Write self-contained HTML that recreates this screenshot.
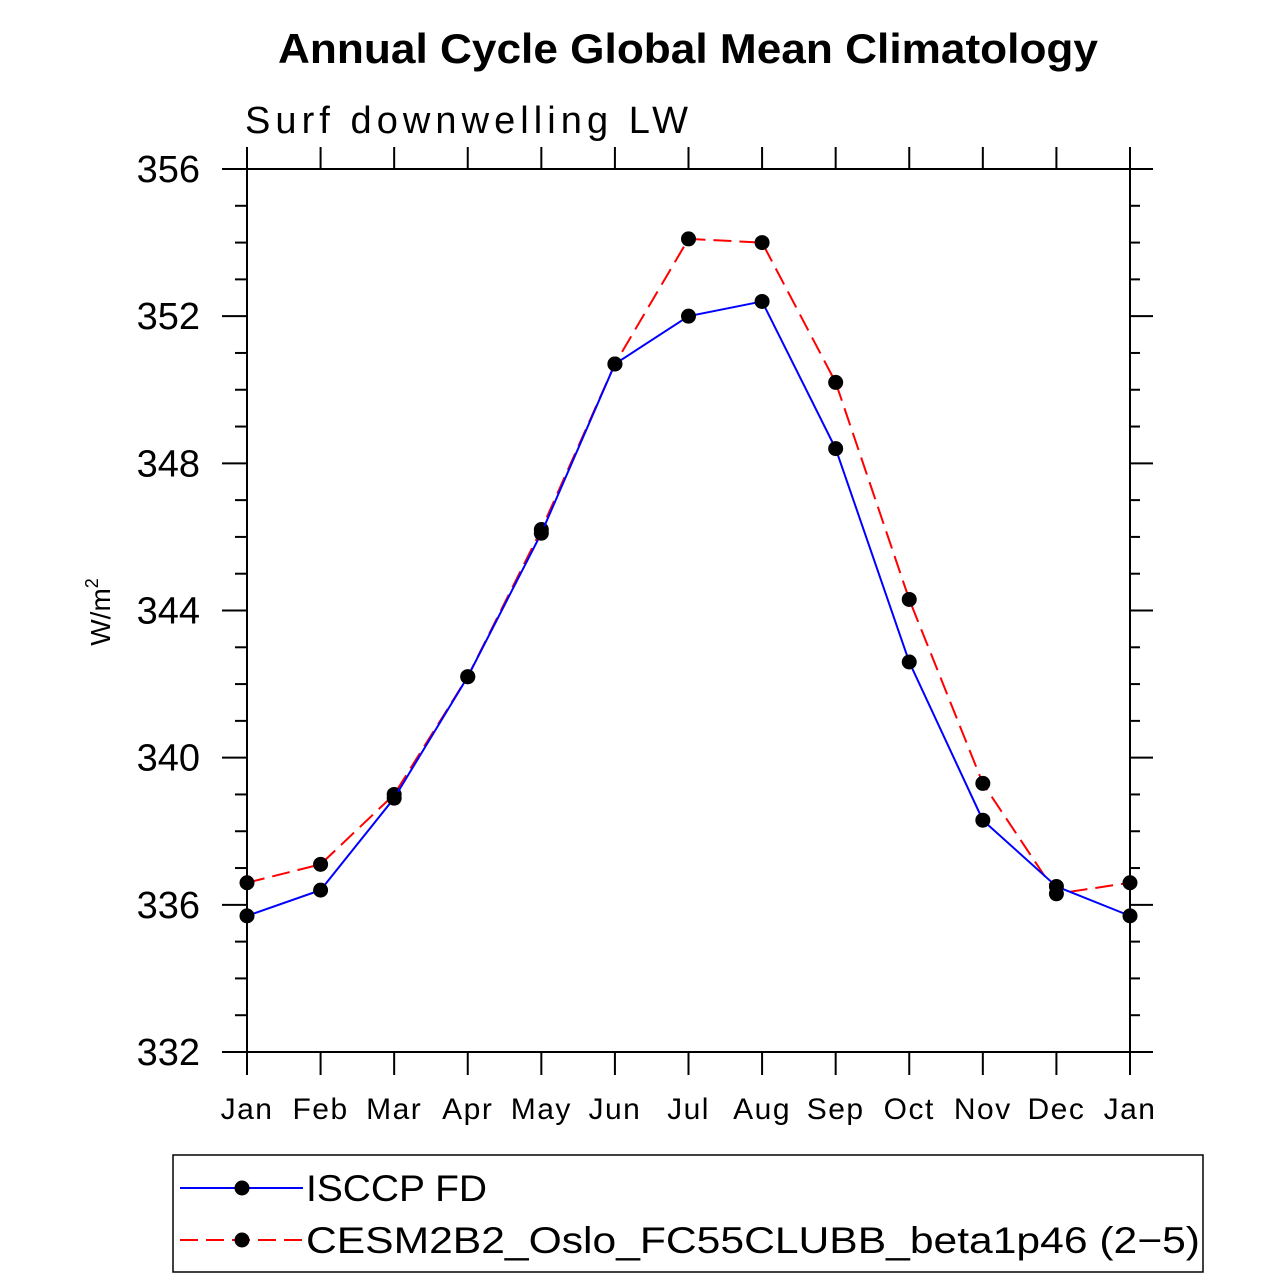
<!DOCTYPE html>
<html><head><meta charset="utf-8"><style>body{margin:0;background:#fff}svg{display:block}text{font-family:"Liberation Sans",sans-serif}</style></head>
<body>
<svg id="c" width="1285" height="1279" xmlns="http://www.w3.org/2000/svg">
<text x="278" y="63" font-size="42" font-weight="bold" textLength="820" lengthAdjust="spacingAndGlyphs">Annual Cycle Global Mean Climatology</text>
<text x="245" y="133" font-size="38" font-weight="300" textLength="443" lengthAdjust="spacing">Surf downwelling LW</text>
<text transform="translate(110,612) rotate(-90)" font-size="28" text-anchor="middle">W/m<tspan dy="-12" font-size="18">2</tspan></text>
<g id="axes"></g><g id="series"></g>
<rect x="173" y="1155" width="1030" height="117" fill="none" stroke="#000" stroke-width="1.5"/>
<g>
<line x1="180" y1="1188" x2="303" y2="1188" stroke="#0000ff" stroke-width="2"/><circle cx="242" cy="1188" r="7.5"/>
<text x="306" y="1201" font-size="37" textLength="181" lengthAdjust="spacingAndGlyphs">ISCCP FD</text></g>
<g>
<line x1="180" y1="1240" x2="303" y2="1240" stroke="#ff0000" stroke-width="2" stroke-dasharray="18,8"/><circle cx="242" cy="1240" r="7.5"/>
<text x="306" y="1253" font-size="37" textLength="894" lengthAdjust="spacingAndGlyphs">CESM2B2_Oslo_FC55CLUBB_beta1p46 (2−5)</text></g>
</svg>
<script>
const months=["Jan","Feb","Mar","Apr","May","Jun","Jul","Aug","Sep","Oct","Nov","Dec","Jan"];
const yTicks=[332,336,340,344,348,352,356];
const isccp=[335.7,336.4,338.9,342.2,346.1,350.7,352.0,352.4,348.4,342.6,338.3,336.5,335.7];
const cesm=[336.6,337.1,339.0,342.2,346.2,350.7,354.1,354.0,350.2,344.3,339.3,336.3,336.6];
const L=247,R=1130,T=169,B=1052,ymin=332,ymax=356;
const X=i=>L+(R-L)*i/12, Y=v=>B-(B-T)*(v-ymin)/(ymax-ymin);
const NS="http://www.w3.org/2000/svg";
function mk(p,t,a){const e=document.createElementNS(NS,t);for(const k in a)e.setAttribute(k,a[k]);p.appendChild(e);return e;}
const ax=document.getElementById('axes');
const fr=mk(ax,'rect',{x:L,y:T,width:R-L,height:B-T,fill:'none',stroke:'#000','stroke-width':2});


for(let v=ymin;v<=ymax;v++){const y=Y(v);const maj=(v-ymin)%4===0;const len=maj?25:12;
mk(ax,'line',{x1:L-len,y1:y,x2:L,y2:y,stroke:'#000','stroke-width':2});
mk(ax,'line',{x1:R,y1:y,x2:R+len-2,y2:y,stroke:'#000','stroke-width':2});}
yTicks.forEach(v=>{const t=mk(ax,'text',{x:200,y:Y(v)+13,'font-size':38,'text-anchor':'end','font-weight':300});t.textContent=v;

});
months.forEach((m,i)=>{const x=X(i);
mk(ax,'line',{x1:x,y1:T,x2:x,y2:T-22,stroke:'#000','stroke-width':2});
mk(ax,'line',{x1:x,y1:B,x2:x,y2:B+23,stroke:'#000','stroke-width':2});
const t=mk(ax,'text',{x:x,y:1119,'font-size':30,'text-anchor':'middle','letter-spacing':'1.5'});t.textContent=m;

});
const sg=document.getElementById('series');
function draw(d,col,dash,name){const g=mk(sg,'g',{});


mk(g,'polyline',{points:d.map((v,i)=>X(i)+','+Y(v)).join(' '),fill:'none',stroke:col,'stroke-width':2,'stroke-dasharray':dash});
d.forEach((v,i)=>{const c=mk(g,'circle',{cx:X(i),cy:Y(v),r:7.5});

});}
draw(cesm,'#ff0000','18,8','series-cesm');
draw(isccp,'#0000ff','none','series-isccp');
</script>
</body></html>
